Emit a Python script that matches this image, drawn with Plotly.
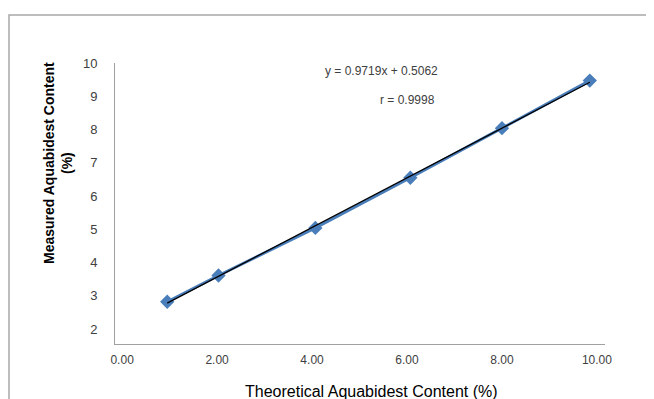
import numpy as np
import plotly.graph_objects as go

theoretical = [0.95, 2.03, 4.07, 6.07, 8.00, 9.85]
measured = [2.82, 3.61, 5.04, 6.55, 8.04, 9.47]
x_ticks = [0, 2, 4, 6, 8, 10]
x_tick_labels = ["0.00", "2.00", "4.00", "6.00", "8.00", "10.00"]
y_ticks = [2, 3, 4, 5, 6, 7, 8, 9, 10]
equation_text = "y = 0.9719x + 0.5062"
r_text = "r = 0.9998"

slope, intercept = np.polyfit(theoretical, measured, 1)
trend_x = [min(theoretical), max(theoretical)]
trend_y = [slope * v + intercept for v in trend_x]

FONT = "Liberation Sans"
OFF = 8  # default page body margin
W, H = 654 - OFF, 399 - OFF
# plot area in page pixels: x 115..605, y 63..344
L, T = 115 - OFF, 63 - OFF
R, B = W - (605 - OFF), H - (344 - OFF)
pw, ph = W - L - R, H - T - B


def px(x):
    return (x - OFF - L) / pw


def py(y):
    return (H - B - (y - OFF)) / ph


def label(text, x, y, size, color, angle=0):
    return dict(text=text, xref="paper", yref="paper", x=px(x), y=py(y),
                xanchor="center", yanchor="middle", textangle=angle,
                showarrow=False, font=dict(family=FONT, size=size, color=color))


fig = go.Figure()
fig.add_trace(go.Scatter(
    x=theoretical, y=measured, mode="lines+markers",
    line=dict(color="#4a7ebb", width=3),
    marker=dict(symbol="diamond", size=11, color="#4a7ebb"),
    showlegend=False, hoverinfo="skip"))
fig.add_trace(go.Scatter(
    x=trend_x, y=trend_y, mode="lines",
    line=dict(color="#000000", width=1.3),
    showlegend=False, hoverinfo="skip"))

fig.update_layout(
    width=W, height=H,
    margin=dict(l=L, r=R, t=T, b=B),
    paper_bgcolor="white", plot_bgcolor="white",
    font=dict(family=FONT, size=11, color="#404040"),
    xaxis=dict(range=[-0.15, 10.17], tickvals=x_ticks, ticktext=x_tick_labels,
               showgrid=False, zeroline=False, showline=True,
               linecolor="#a0a0a0", linewidth=1, ticks="", ticklabelstandoff=5,
               tickfont=dict(family=FONT, size=12, color="#404040")),
    yaxis=dict(range=[1.55, 10], tickvals=y_ticks,
               showgrid=False, zeroline=False, showline=True,
               linecolor="#a0a0a0", linewidth=1, ticks="", ticklabelstandoff=14,
               tickfont=dict(family=FONT, size=13, color="#404040")),
    shapes=[dict(type="rect", xref="paper", yref="paper",
                 x0=px(9), x1=px(700), y0=py(450), y1=py(15),
                 line=dict(color="#a8a8a8", width=1.5), fillcolor="rgba(0,0,0,0)",
                 layer="below")],
    annotations=[
        label(equation_text, 381, 71, 12, "#404040"),
        label(r_text, 407, 100, 12, "#404040"),
        label("<b>Measured Aquabidest Content<br>(%)</b>", 58, 163, 14, "#000000", -90),
        label("Theoretical Aquabidest Content (%)", 371, 391, 16, "#000000"),
    ],
)

fig.write_html("out.html")
